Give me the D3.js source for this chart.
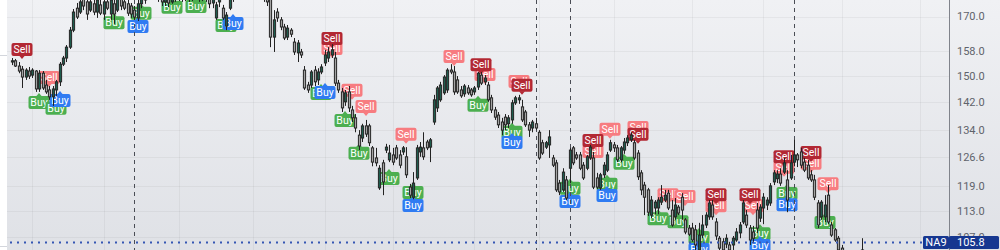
<!DOCTYPE html>
<html>
<head>
<meta charset="utf-8">
<script src="https://cdn.jsdelivr.net/npm/d3@7"></script>
<style>
  html, body { margin: 0; padding: 0; background: #fff; overflow: hidden; }
  svg { display: block; font-family: Roboto, "Noto Sans", sans-serif; }
</style>
</head>
<body>
<div id="chart"></div>
<script>
// daily bars (price units)
var opens = [
  154.5, 154.9, 153.2, 152.2, 149.7, 151.6, 150.3, 151.6, 146.0, 150.9,
  147.2, 145.7, 143.6, 145.7, 148.2, 153.8, 155.8, 159.4, 165.2, 173.0,
  171.6, 177.9, 175.3, 172.3, 174.6, 171.6, 174.2, 170.9, 175.3, 170.9,
  174.6, 172.3, 177.5, 175.3, 174.6, 173.8, 172.3, 169.5, 174.6, 176.0,
  181.6, 179.0, 181.2, 178.3, 179.0, 175.3, 177.5, 175.3, 179.0, 176.8,
  179.0, 176.8, 178.3, 176.8, 179.7, 177.5, 179.7, 177.1, 178.3, 174.9,
  169.5, 175.3, 173.0, 166.6, 173.0, 176.8, 179.0, 181.2, 179.7, 182.0,
  180.5, 182.7, 180.5, 182.0, 179.0, 177.5, 176.8, 162.8, 171.6, 168.8,
  166.3, 162.8, 165.2, 161.1, 157.5, 157.8, 151.9, 147.2, 147.2, 151.9,
  148.8, 151.3, 154.2, 155.8, 156.8, 155.8, 147.8, 145.1, 142.1, 145.1,
  139.7, 137.4, 132.5, 131.7, 135.1, 135.1, 129.0, 126.3, 118.6, 125.0,
  128.4, 125.8, 127.1, 129.0, 127.1, 127.9, 126.6, 118.8, 116.3, 121.1,
  127.9, 129.0, 130.6, 129.2, 136.2, 140.3, 142.7, 144.8, 145.7, 151.9,
  151.3, 148.8, 145.7, 144.5, 146.3, 145.7, 145.1, 146.6, 150.3, 148.2,
  147.2, 143.3, 139.7, 138.2, 136.2, 137.6, 135.7, 136.8, 141.8, 142.7,
  140.6, 139.1, 135.4, 134.5, 135.7, 133.3, 130.4, 129.2, 129.8, 126.3,
  125.0, 119.8, 118.1, 120.6, 123.6, 129.0, 127.1, 127.1, 124.4, 123.6,
  126.3, 126.3, 121.1, 118.6, 121.9, 123.1, 128.4, 129.8, 129.0, 125.8,
  128.4, 130.4, 131.2, 130.4, 127.6, 122.4, 119.3, 118.1, 112.0, 113.7,
  113.7, 115.1, 115.6, 117.3, 113.2, 111.6, 113.9, 116.3, 110.9, 109.0,
  109.0, 108.6, 104.1, 107.4, 109.7, 111.6, 114.4, 110.4, 106.7, 105.9,
  105.4, 105.2, 105.2, 106.3, 107.9, 110.4, 112.0, 109.0, 108.1, 113.2,
  111.3, 113.7, 114.4, 114.9, 120.1, 120.9, 122.1, 122.6, 120.6, 121.1,
  125.2, 127.1, 127.9, 125.2, 124.4, 121.9, 120.6, 114.9, 111.6, 111.6,
  116.8, 109.7, 108.6, 106.7, 104.5, 101.5, 100.7, 101.5, 100.2, 101.1, 102.3
];
var highs = [
  155.8, 155.5, 154.5, 153.2, 152.5, 152.9, 152.5, 151.9, 151.9, 151.6,
  148.8, 146.9, 146.9, 148.8, 154.5, 156.5, 160.1, 166.3, 172.7, 174.9,
  177.1, 179.7, 177.1, 176.8, 177.5, 178.3, 176.8, 177.1, 177.9, 179.0,
  177.5, 179.0, 179.7, 177.5, 176.8, 174.9, 173.8, 176.0, 179.0, 180.5,
  183.5, 182.7, 183.5, 182.0, 180.5, 179.7, 179.7, 181.2, 181.2, 182.0,
  181.2, 181.2, 180.5, 182.0, 182.7, 182.7, 182.0, 182.7, 179.7, 179.7,
  175.3, 179.0, 174.2, 171.6, 179.0, 181.2, 184.3, 185.1, 185.1, 185.9,
  185.9, 186.6, 185.1, 185.1, 181.2, 179.7, 179.0, 172.3, 173.0, 169.8,
  167.4, 167.0, 165.9, 162.5, 161.8, 158.8, 153.2, 148.2, 151.9, 153.2,
  152.5, 153.8, 158.5, 159.4, 160.4, 157.8, 148.8, 146.3, 145.7, 146.9,
  140.9, 138.5, 133.9, 135.7, 136.8, 135.7, 129.5, 129.0, 124.4, 125.8,
  130.1, 129.8, 129.0, 129.8, 128.4, 129.5, 129.2, 119.6, 122.6, 129.8,
  130.6, 133.3, 131.2, 131.7, 144.2, 146.9, 148.2, 150.3, 152.5, 153.8,
  153.2, 150.0, 146.9, 147.5, 147.2, 146.3, 146.9, 151.3, 151.3, 150.3,
  148.2, 144.2, 140.6, 139.1, 137.4, 138.5, 138.2, 142.7, 143.9, 144.2,
  142.7, 139.7, 136.2, 136.8, 137.4, 133.9, 131.2, 130.9, 133.9, 127.1,
  125.8, 120.6, 123.6, 121.6, 129.0, 129.5, 127.9, 127.9, 125.2, 127.1,
  129.8, 127.9, 122.4, 122.4, 125.2, 127.9, 131.2, 130.6, 129.8, 129.5,
  131.7, 132.5, 133.3, 131.2, 128.4, 123.1, 120.1, 118.6, 116.6, 115.6,
  116.3, 119.3, 118.1, 118.1, 115.6, 116.1, 114.4, 117.3, 111.3, 109.7,
  110.2, 109.7, 110.2, 112.0, 112.7, 115.6, 115.6, 111.3, 107.2, 106.7,
  107.6, 105.9, 107.2, 109.0, 110.4, 115.6, 113.2, 109.7, 109.5, 114.9,
  114.6, 117.3, 116.3, 119.8, 123.1, 123.1, 123.6, 126.3, 123.1, 127.1,
  131.2, 127.6, 129.0, 126.3, 125.8, 123.1, 121.9, 115.6, 115.6, 116.8,
  119.3, 110.4, 109.0, 107.2, 105.2, 102.3, 102.3, 102.5, 102.3, 103.7, 106.7
];
var lows = [
  153.5, 152.9, 150.9, 146.3, 148.8, 149.1, 149.4, 145.1, 145.1, 145.7,
  144.5, 142.7, 140.9, 143.9, 146.9, 153.2, 154.5, 158.8, 164.5, 169.1,
  170.9, 172.3, 168.8, 171.6, 170.5, 169.5, 170.5, 168.8, 172.3, 168.8,
  167.4, 171.6, 172.3, 172.3, 170.2, 169.5, 168.8, 168.4, 173.0, 174.6,
  177.1, 176.8, 176.4, 175.3, 173.8, 173.8, 173.4, 174.6, 175.3, 175.6,
  175.3, 175.6, 175.3, 175.6, 176.0, 175.3, 175.6, 175.3, 173.0, 173.0,
  168.8, 173.4, 168.8, 165.2, 172.3, 175.3, 177.5, 177.9, 178.3, 178.3,
  178.6, 178.3, 177.9, 177.1, 175.3, 173.8, 159.4, 157.8, 168.1, 165.2,
  161.8, 161.8, 162.8, 156.8, 154.5, 155.8, 145.7, 144.8, 146.3, 146.9,
  147.2, 150.6, 153.2, 154.5, 155.8, 146.9, 144.8, 139.1, 140.9, 139.1,
  136.2, 133.3, 128.4, 130.6, 132.0, 129.5, 124.1, 124.1, 118.1, 116.8,
  127.6, 125.2, 124.4, 125.8, 123.6, 127.1, 121.1, 116.1, 115.8, 120.6,
  126.6, 125.8, 128.4, 125.2, 135.4, 139.1, 142.1, 144.2, 144.8, 150.6,
  144.2, 144.5, 143.3, 143.6, 144.2, 143.6, 144.2, 145.7, 147.2, 147.2,
  142.1, 138.8, 136.8, 134.5, 132.5, 133.9, 134.5, 135.7, 141.2, 141.5,
  136.2, 134.8, 132.0, 133.3, 133.9, 125.8, 127.1, 128.7, 126.3, 123.9,
  117.6, 116.8, 117.6, 115.6, 119.8, 124.4, 125.8, 123.1, 120.6, 123.1,
  125.8, 118.3, 118.3, 118.1, 121.1, 122.6, 127.9, 127.9, 125.2, 125.2,
  127.4, 129.5, 130.6, 125.8, 120.6, 116.8, 112.0, 111.8, 111.3, 112.2,
  112.2, 114.4, 115.1, 113.2, 109.3, 110.9, 112.0, 110.9, 107.6, 107.2,
  105.9, 103.7, 103.0, 106.7, 109.0, 110.9, 110.9, 106.3, 103.7, 103.2,
  104.5, 103.2, 104.1, 105.9, 106.7, 109.9, 109.0, 105.2, 105.6, 107.9,
  110.4, 109.9, 113.2, 114.2, 119.3, 119.8, 119.1, 122.1, 112.7, 120.6,
  124.1, 123.9, 123.6, 122.6, 120.6, 120.1, 115.6, 109.0, 110.9, 110.4,
  109.9, 107.0, 105.9, 103.0, 100.7, 99.4, 99.8, 98.8, 99.4, 100.7, 101.9
];
var closes = [
  154.9, 153.2, 151.6, 149.7, 151.9, 150.0, 151.9, 146.0, 150.9, 146.3,
  145.1, 143.6, 146.0, 148.2, 153.8, 155.8, 159.4, 165.2, 171.6, 169.8,
  175.3, 173.8, 170.9, 175.3, 171.6, 176.0, 171.2, 175.3, 173.0, 176.0,
  170.9, 176.8, 173.8, 173.0, 171.2, 170.9, 169.8, 174.6, 176.8, 178.3,
  179.0, 181.2, 178.3, 179.7, 175.3, 178.3, 174.9, 179.0, 176.8, 179.7,
  176.8, 179.0, 176.4, 179.7, 177.5, 180.5, 177.1, 179.7, 174.6, 177.5,
  174.2, 176.8, 169.5, 170.5, 176.8, 179.0, 181.2, 179.7, 182.0, 179.7,
  182.7, 180.5, 182.0, 179.0, 177.5, 175.3, 162.8, 168.8, 169.5, 166.3,
  162.5, 165.9, 163.8, 157.8, 160.8, 156.8, 146.3, 145.7, 151.3, 148.2,
  151.3, 152.9, 156.8, 157.8, 158.5, 147.8, 145.7, 140.3, 144.8, 140.3,
  137.4, 134.5, 129.5, 135.1, 132.8, 130.4, 125.2, 125.0, 123.6, 120.1,
  129.2, 127.6, 125.2, 126.3, 124.4, 129.0, 121.9, 116.8, 119.8, 129.0,
  129.2, 126.6, 129.0, 131.2, 142.7, 146.3, 147.2, 149.7, 151.9, 151.3,
  145.1, 145.1, 143.9, 146.9, 144.8, 144.2, 146.3, 150.9, 147.8, 149.4,
  142.7, 139.7, 137.6, 135.4, 133.9, 135.4, 137.4, 141.8, 143.3, 143.3,
  136.8, 135.4, 133.9, 136.2, 134.5, 126.3, 127.6, 130.4, 132.0, 124.4,
  118.1, 117.6, 122.6, 116.1, 128.4, 125.0, 126.3, 123.6, 121.1, 126.6,
  129.2, 118.8, 118.8, 121.9, 124.4, 127.1, 130.4, 129.0, 125.8, 129.0,
  130.6, 131.7, 132.5, 126.3, 121.4, 118.1, 116.3, 112.7, 115.6, 115.1,
  115.6, 116.3, 116.8, 113.7, 109.7, 114.4, 112.5, 113.2, 108.1, 107.6,
  106.3, 105.2, 107.4, 109.7, 112.0, 114.9, 111.6, 107.2, 104.5, 104.1,
  106.7, 104.1, 106.7, 108.1, 109.7, 114.9, 109.7, 106.3, 106.7, 109.0,
  113.9, 116.3, 115.6, 119.1, 122.4, 122.1, 119.8, 125.0, 115.6, 125.0,
  127.1, 125.8, 124.4, 123.1, 121.1, 120.6, 116.3, 109.7, 115.1, 114.4,
  110.4, 107.4, 106.3, 104.1, 101.5, 100.2, 101.5, 99.8, 101.1, 102.3, 104.1
];

// signal labels: bar index, price the pointer touches, strong (dark red / blue) or not
var sellIndex = [3, 11, 94, 94, 100, 104, 116, 130, 139, 138,
                 149, 150, 171, 171, 176, 184, 184, 193, 198, 207,
                 207, 217, 218, 227, 227, 235, 235, 240];
var sellPrice = [155.5, 146.6, 159.1, 155.8, 142.7, 137.9, 130.1, 153.2, 147.5, 150.6,
                 145.4, 144.2, 125.5, 128.4, 131.5, 132.0, 130.1, 114.6, 114.2, 114.6,
                 112.0, 114.6, 112.0, 124.1, 121.4, 125.2, 122.4, 117.3];
var sellStrong = [1, 0, 1, 0, 0, 0, 0, 0, 0, 1,
                  0, 1, 0, 1, 0, 0, 1, 0, 0, 1,
                  0, 1, 0, 1, 0, 1, 0, 0];
var buyIndex = [8, 13, 14, 30, 38, 37, 47, 54, 63, 65,
                91, 92, 98, 102, 111, 118, 118, 137, 147, 147,
                164, 164, 175, 175, 180, 190, 196, 202, 202, 220,
                220, 228, 228, 239];
var buyPrice = [144.8, 143.0, 145.4, 171.2, 174.6, 169.8, 176.8, 177.1, 170.2, 170.9,
                147.5, 147.8, 139.4, 130.1, 123.4, 119.8, 116.6, 143.9, 136.0, 133.1,
                120.9, 117.6, 121.9, 119.1, 127.4, 113.4, 112.7, 109.0, 106.3, 109.9,
                107.2, 119.6, 116.8, 112.5];
var buyStrong = [0, 0, 1, 0, 0, 1, 0, 0, 0, 1,
                 0, 1, 0, 0, 0, 0, 1, 0, 0, 1,
                 0, 1, 0, 1, 0, 0, 0, 0, 1, 0,
                 1, 0, 1, 0];

var priceTicks = [170.0, 158.0, 150.0, 142.0, 134.0, 126.6, 119.0, 113.0, 107.0];
var timeGrid = [6, 27, 49, 71, 92, 112, 136, 155, 177, 200, 221, 244, 267];
var sessionBreaks = [36, 154, 164, 230];
var markLevel = 105.8;
var markName = "NA9";

var W = 1000, H = 250;
var plotLeft = 7, plotRight = 949;

var x = d3.scaleLinear().domain([-1.47, 275.6]).range([plotLeft, plotRight]);
var y = d3.scaleLog().domain([104.09, 176.0]).range([H, 0]);
var fmt = d3.format(".1f");

var svg = d3.select("#chart").append("svg")
    .attr("width", W)
    .attr("height", H);

var defs = svg.append("defs");
var grad = defs.append("linearGradient")
    .attr("id", "bg")
    .attr("x1", 0).attr("y1", 0).attr("x2", 0).attr("y2", 1);
grad.append("stop").attr("offset", "0%").attr("stop-color", "#f0f1f4");
grad.append("stop").attr("offset", "100%").attr("stop-color", "#dfe1e6");
defs.append("clipPath").attr("id", "plotclip")
  .append("rect")
    .attr("x", plotLeft).attr("y", 0)
    .attr("width", plotRight - plotLeft).attr("height", H);

svg.append("rect").attr("width", W).attr("height", H).attr("fill", "url(#bg)");
svg.append("rect").attr("width", plotLeft).attr("height", H).attr("fill", "#fff");
svg.selectAll("line.edge")
  .data([55, 246])
  .enter().append("line")
    .attr("class", "edge")
    .attr("x1", 0).attr("x2", plotLeft)
    .attr("y1", function(d) { return d + 0.5; })
    .attr("y2", function(d) { return d + 0.5; })
    .attr("stroke", "#d3d6dc");

var plot = svg.append("g").attr("clip-path", "url(#plotclip)");

// grid
plot.selectAll("line.hgrid")
  .data(priceTicks)
  .enter().append("line")
    .attr("class", "hgrid")
    .attr("x1", plotLeft).attr("x2", plotRight)
    .attr("y1", function(d) { return Math.round(y(d)) + 0.5; })
    .attr("y2", function(d) { return Math.round(y(d)) + 0.5; })
    .attr("stroke", "rgba(0,0,0,0.045)");
plot.selectAll("line.vgrid")
  .data(timeGrid)
  .enter().append("line")
    .attr("class", "vgrid")
    .attr("x1", function(d) { return Math.round(x(d)) + 0.5; })
    .attr("x2", function(d) { return Math.round(x(d)) + 0.5; })
    .attr("y1", 0).attr("y2", H)
    .attr("stroke", "rgba(0,0,0,0.045)");

// labels (drawn under the bars, weak ones first)
var sells = sellIndex.map(function(d, i) {
  return { i: d, p: sellPrice[i], strong: sellStrong[i] };
}).sort(function(a, b) { return a.strong - b.strong; });
var buys = buyIndex.map(function(d, i) {
  return { i: d, p: buyPrice[i], strong: buyStrong[i] };
}).sort(function(a, b) { return a.strong - b.strong; });

function drawLabels(data, isSell) {
  var g = plot.selectAll(null)
    .data(data)
    .enter().append("g")
      .attr("transform", function(d) {
        return "translate(" + Math.round(x(d.i)) + "," + y(d.p) + ")"; });
  var color = function(d) {
    if (isSell) return d.strong ? "#b22833" : "#f77c80";
    return d.strong ? "#2f7bf2" : "#4caf50";
  };
  var s = isSell ? -1 : 1;
  var w = 21;
  g.append("rect")
    .attr("x", -w / 2)
    .attr("y", isSell ? -16 : 3)
    .attr("width", w).attr("height", 13)
    .attr("rx", 2)
    .attr("fill", color);
  g.append("path")
    .attr("d", "M-3," + (3.5 * s) + "L0,0L3," + (3.5 * s) + "Z")
    .attr("fill", color);
  g.append("text")
    .attr("x", 0)
    .attr("y", isSell ? -9.5 : 9.5)
    .attr("dy", "0.35em")
    .attr("text-anchor", "middle")
    .attr("fill", "#fff")
    .style("font-size", "10.5px")
    .text(isSell ? "Sell" : "Buy");
}
drawLabels(sells, true);
drawLabels(buys, false);

// session breaks
plot.selectAll("line.brk")
  .data(sessionBreaks)
  .enter().append("line")
    .attr("class", "brk")
    .attr("x1", function(d) { return Math.round(x(d)) + 0.5; })
    .attr("x2", function(d) { return Math.round(x(d)) + 0.5; })
    .attr("y1", 0).attr("y2", H)
    .attr("stroke", "#4a4d55")
    .attr("stroke-dasharray", "4,4");

// candles
var bars = d3.range(closes.length);
var candle = plot.selectAll("g.candle")
  .data(bars)
  .enter().append("g")
    .attr("class", "candle");
candle.append("line")
  .attr("x1", function(i) { return Math.round(x(i)) + 0.5; })
  .attr("x2", function(i) { return Math.round(x(i)) + 0.5; })
  .attr("y1", function(i) { return y(highs[i]); })
  .attr("y2", function(i) { return y(lows[i]); })
  .attr("stroke", "#222");
candle.append("rect")
  .attr("x", function(i) { return Math.round(x(i)) - 0.6; })
  .attr("width", 2.2)
  .attr("y", function(i) { return y(Math.max(opens[i], closes[i])); })
  .attr("height", function(i) {
    return Math.max(1, Math.abs(y(opens[i]) - y(closes[i]))); })
  .attr("fill", function(i) { return closes[i] >= opens[i] ? "#1f5d4e" : "#a3a3a3"; })
  .attr("stroke", "#262626")
  .attr("stroke-width", 1);

// marked level
var my = Math.round(y(markLevel));
svg.append("line")
  .attr("x1", plotLeft + 3).attr("x2", 923)
  .attr("y1", my + 0.5).attr("y2", my + 0.5)
  .attr("stroke", "#3556b3")
  .attr("stroke-width", 2)
  .attr("stroke-dasharray", "2,5");

// price axis
svg.append("line")
  .attr("x1", plotRight + 0.5).attr("x2", plotRight + 0.5)
  .attr("y1", 0).attr("y2", H)
  .attr("stroke", "#80838b");
svg.selectAll("text.tick")
  .data(priceTicks)
  .enter().append("text")
    .attr("class", "tick")
    .attr("x", 957)
    .attr("y", function(d) { return y(d); })
    .attr("dy", "0.35em")
    .attr("fill", "#60636b")
    .style("font-size", "11px")
    .text(function(d) { return fmt(d); });

svg.append("rect")
  .attr("x", 923).attr("y", my - 6)
  .attr("width", 26).attr("height", 13)
  .attr("rx", 1.5)
  .attr("fill", "#163790");
svg.append("text")
  .attr("x", 936).attr("y", my + 0.5)
  .attr("dy", "0.35em")
  .attr("text-anchor", "middle")
  .attr("fill", "#fff")
  .style("font-size", "11px")
  .text(markName);
svg.append("rect")
  .attr("x", plotRight).attr("y", my - 6)
  .attr("width", 50).attr("height", 13)
  .attr("rx", 1.5)
  .attr("fill", "#163790");
svg.append("text")
  .attr("x", 957).attr("y", my + 0.5)
  .attr("dy", "0.35em")
  .attr("fill", "#fff")
  .style("font-size", "11px")
  .text(fmt(markLevel));
</script>
</body>
</html>
